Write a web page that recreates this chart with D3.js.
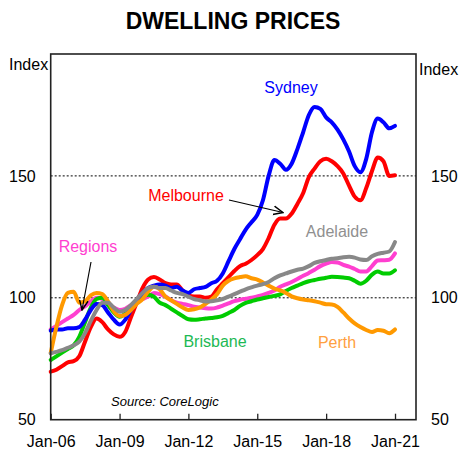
<!DOCTYPE html>
<html><head><meta charset="utf-8">
<script src="https://cdn.jsdelivr.net/npm/d3@7"></script>
<style>
body{margin:0;background:#fff;}
svg{display:block;font-family:Arial,"Liberation Sans",sans-serif;}
</style></head>
<body><svg id="c" width="461" height="451"></svg>
<script>
// Quarterly observations, Jan-06 to Jan-21 (index)
const startYear = 2006;
const sydney = [86.5,87,87,87.5,87.5,88,91,95,97.5,97,94,91,89,91,95,99,102,104,105,105.5,105,104,104.5,103,102,103.5,104,104.5,106,107,110,115,120,124,128,131,134,140,150,156.5,155,152.5,155,161,168,175,178.3,177.5,174,172,169,165,160,154,151.5,157,168,173.5,172,169.5,170.5];
const melbourne = [69.7,70.5,72,73.5,74,76,82,88,91.5,90,87,85,84,86,92,98,104,107.5,108.5,107.5,106,105.5,105.5,103,101,100.5,100.5,100,100.5,103.5,106,108.5,111,113,114,115.5,117.5,120,124.5,130,132.5,132.5,134.5,138.5,143,149.5,153,156,157,156,154,151,146,141.5,140,145,152,157.5,156,150,150.3];
const brisbane = [74.5,76,77.5,79,80.5,84,90,96,99.5,100,97,94,92.2,93.5,95.5,98,100.4,101.3,100.5,98,97,95.5,94,92.5,91.2,91,91.2,91.5,91.7,92,92.6,93.8,95,96.7,97.9,98.6,99.3,99.8,100.3,100.8,101.4,102.8,104,105,106,106.8,107.3,107.8,108.2,108.6,108.5,108.3,108,107,105.8,107,109.5,110.8,110,110,111.3];
const adelaide = [77.2,77.8,78.5,79.5,80.5,82,85.5,90.5,95,98,98,96,94.3,95,97,99.5,102,104,104.5,104,104,103,102,101.5,100.5,99.5,99,98.5,98.6,99,99.5,100.5,101.5,102.5,103.5,104.3,105,105.6,106.5,108,109.2,110,110.8,111.5,112,113,114.3,115,115.5,116,116.2,116.6,116.8,116.5,115.7,115.5,117,118,118.5,119,122.9];
const regions = [87,88.5,90,91.5,93,95,96.5,98.5,100,99.5,97.5,96,95,95.5,97,98.5,99.5,100.5,102,101.5,100.5,99,98,97.5,97,96.3,96,95.7,95.6,96,96.8,97.7,98.6,99.2,99.6,100,100.6,101.2,102,103,104.5,105.5,106.5,107.7,109,110.2,111.5,113,114,114.7,114.5,113.5,112.8,111.8,110.8,110.8,113,115.3,115.4,115.6,118.2];
const perth = [77.3,88,97,102,102.5,98,98.5,101,102,101.5,98.5,94.5,92.5,93,95,97.5,99.5,102.5,104.5,103.5,100.5,99,97.5,96,95,95.3,96,97.5,99.3,101.5,105,107,108,108.5,108.8,108,107.5,106.3,105,103.8,103,102,100.6,99.8,99.3,99,98.6,98,97.4,97.3,96.3,94,91.5,89.5,88,86.8,86,86.8,86.5,85.5,87];

const seriesNames = ["Regions","Brisbane","Melbourne","Sydney","Perth","Adelaide"];
const seriesValues = [regions,brisbane,melbourne,sydney,perth,adelaide];
const lineColors = ["#ff3fd0","#00cc00","#ff0000","#0000ff","#ff9900","#888888"];
const labelColors = ["#ff3fd0","#1db954","#ff0000","#0000ff","#ffa040","#909090"];
const yTicks = [50,100,150];
const xTickLabels = ["Jan-06","Jan-09","Jan-12","Jan-15","Jan-18","Jan-21"];
const gridValues = [100,150];

const svg = d3.select("#c");
const L = 50.7, R = 416, T = 54, B = 419.7;
const x = d3.scaleTime().domain([new Date(2006,0,1), new Date(2021,11,1)]).range([L,R]);
const y = d3.scaleLinear().domain([50,200]).range([B,T]);
const dateOf = i => new Date(startYear + Math.floor(i/4), (i%4)*3, 1);

// title
svg.append("text").attr("x",233).attr("y",29).attr("text-anchor","middle")
  .attr("font-size",23).attr("font-weight","bold").text("DWELLING PRICES");

// gridlines
svg.selectAll(".grid").data(gridValues).enter().append("line")
  .attr("x1",L).attr("x2",R).attr("y1",d=>y(d)).attr("y2",d=>y(d))
  .attr("stroke","#000").attr("stroke-width",1).attr("stroke-dasharray","2,2");

// lines
const line = d3.line().x((d,i)=>x(dateOf(i))).y(d=>y(d)).curve(d3.curveMonotoneX);
seriesValues.forEach((vals,k)=>{
  svg.append("path").datum(vals).attr("d",line).attr("fill","none")
    .attr("stroke",lineColors[k]).attr("stroke-width",4)
    .attr("stroke-linejoin","round").attr("stroke-linecap","round");
});

// frame
svg.append("rect").attr("x",L).attr("y",T).attr("width",R-L).attr("height",B-T)
  .attr("fill","none").attr("stroke","#222").attr("stroke-width",1.6);

// x axis ticks (inside) and labels
const xTickDates = xTickLabels.map((s,i)=>new Date(2006+3*i,0,1));
const xAxis = d3.axisBottom(x).tickValues(xTickDates).tickSizeInner(-6).tickSizeOuter(0)
  .tickFormat((d,i)=>xTickLabels[i]).tickPadding(16);
const gx = svg.append("g").attr("transform",`translate(0,${B})`).call(xAxis);
gx.select(".domain").remove();
gx.selectAll("line").attr("stroke","#222").attr("stroke-width",1.3);
gx.selectAll("text").attr("font-size",16).attr("fill","#000").attr("font-family","Arial,'Liberation Sans',sans-serif");

// y axes labels
const yl = d3.axisLeft(y).tickValues(yTicks).tickSize(0).tickPadding(15);
const gyl = svg.append("g").attr("transform",`translate(${L},0)`).call(yl);
gyl.select(".domain").remove();
gyl.selectAll("text").attr("font-size",16).attr("fill","#000").attr("font-family","Arial,'Liberation Sans',sans-serif");
const yr = d3.axisRight(y).tickValues(yTicks).tickSize(0).tickPadding(15);
const gyr = svg.append("g").attr("transform",`translate(${R},0)`).call(yr);
gyr.select(".domain").remove();
gyr.selectAll("text").attr("font-size",16).attr("fill","#000").attr("font-family","Arial,'Liberation Sans',sans-serif");

svg.append("text").attr("x",9).attr("y",70).attr("font-size",16).text("Index");
svg.append("text").attr("x",419).attr("y",75).attr("font-size",16).text("Index");

// series labels
const labelPos = [[88,252],[215,347],[186,201],[291,93],[337,348],[337,237]];
seriesNames.forEach((n,k)=>{
  svg.append("text").attr("x",labelPos[k][0]).attr("y",labelPos[k][1])
    .attr("text-anchor","middle").attr("font-size",16).attr("fill",labelColors[k]).text(n);
});

// arrows
const defs = svg.append("defs");
defs.append("marker").attr("id","ah").attr("viewBox","0 0 10 10").attr("refX",9).attr("refY",5)
  .attr("markerWidth",9).attr("markerHeight",9).attr("orient","auto")
  .append("path").attr("d","M0,1 L9,5 L0,9").attr("fill","none").attr("stroke","#000").attr("stroke-width",1.3);
svg.append("line").attr("x1",229).attr("y1",200).attr("x2",283).attr("y2",212.5)
  .attr("stroke","#000").attr("stroke-width",1.2).attr("marker-end","url(#ah)");
svg.append("line").attr("x1",91).attr("y1",262).attr("x2",82).attr("y2",310)
  .attr("stroke","#000").attr("stroke-width",1.2).attr("marker-end","url(#ah)");

// source
svg.append("text").attr("x",111).attr("y",406).attr("font-size",13).attr("font-style","italic").text("Source: CoreLogic");
</script></body></html>
